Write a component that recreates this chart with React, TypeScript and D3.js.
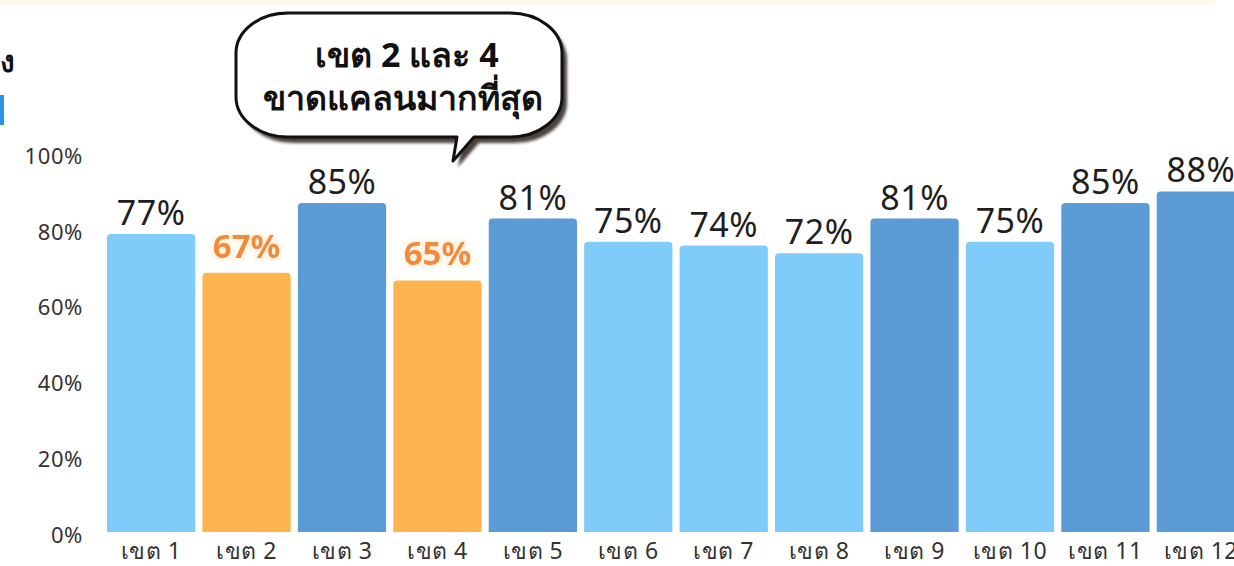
import React from "react";
import * as d3 from "d3";

const categories = ["เขต 1","เขต 2","เขต 3","เขต 4","เขต 5","เขต 6","เขต 7","เขต 8","เขต 9","เขต 10","เขต 11","เขต 12"];
const values = [77, 67, 85, 65, 81, 75, 74, 72, 81, 75, 85, 88];
const groups = ["light","orange","dark","orange","dark","light","light","light","dark","light","dark","dark"];
const yTicks = [0, 20, 40, 60, 80, 100];
const calloutLines = ["เขต 2 และ 4", "ขาดแคลนมากที่สุด"];

const W = 1234, H = 566;
const colors: Record<string, string> = { light: "#7FCBF9", orange: "#FCB54E", dark: "#5B9BD6" };
const FONT = "'Noto Sans', 'Open Sans', sans-serif";

export default function App() {
  const x = d3.scaleBand<string>().domain(categories).range([107, 1245]).paddingInner(0.075).paddingOuter(0);
  const y = d3.scaleLinear().domain([0, 100]).range([532, 145]);
  const yLab = d3.scaleLinear().domain([0, 100]).range([535, 156]);

  const bx0 = 236, bx1 = 562, by0 = 13, by1 = 137, rx = 52, ry = 40;
  const bubble = `M ${bx0 + rx} ${by0} H ${bx1 - rx} A ${rx} ${ry} 0 0 1 ${bx1} ${by0 + ry} V ${by1 - ry} A ${rx} ${ry} 0 0 1 ${bx1 - rx} ${by1} H 474 L 453 161 L 457 ${by1} H ${bx0 + rx} A ${rx} ${ry} 0 0 1 ${bx0} ${by1 - ry} V ${by0 + ry} A ${rx} ${ry} 0 0 1 ${bx0 + rx} ${by0} Z`;

  const barPath = (x0: number, w: number, top: number, bottom: number, r: number) =>
    `M ${x0} ${bottom} V ${top + r} Q ${x0} ${top} ${x0 + r} ${top} H ${x0 + w - r} Q ${x0 + w} ${top} ${x0 + w} ${top + r} V ${bottom} Z`;

  return (
    <svg width={W} height={H} style={{ position: "absolute", left: 0, top: 0, background: "#fff" }} fontFamily={FONT}>
      <defs>
        <filter id="sh" x="-10%" y="-10%" width="130%" height="140%">
          <feGaussianBlur stdDeviation="1.5" />
        </filter>
        <filter id="glow" x="-20%" y="-30%" width="140%" height="160%">
          <feMorphology operator="dilate" radius="2" in="SourceAlpha" result="d" />
          <feGaussianBlur stdDeviation="2" in="d" result="b" />
          <feFlood floodColor="#fff3dc" />
          <feComposite operator="in" in2="b" result="g" />
          <feMerge><feMergeNode in="g" /><feMergeNode in="SourceGraphic" /></feMerge>
        </filter>
      </defs>
      <rect x={0} y={0} width={1215} height={5} fill="#fcf8ee" />
      <text x={0} y={72} fontSize={30} fontWeight={700} fill="#111">ง</text>
      <rect x={0} y={95} width={4} height={30} fill="#2b93e3" />

      {/* y axis labels */}
      {yTicks.map(t => (
        <text key={t} x={83} y={yLab(t)} dy="0.35em" textAnchor="end" fontSize={22} letterSpacing={0.6} fill="#333">{t}%</text>
      ))}

      {/* bars */}
      {categories.map((c, i) => {
        const x0 = x(c)!;
        return (
          <path key={c} d={barPath(x0, x.bandwidth(), y(values[i]), y(0), 4)} fill={colors[groups[i]]} />
        );
      })}

      {/* value labels */}
      {categories.map((c, i) => {
        const isO = groups[i] === "orange";
        return (
          <text key={c} x={x(c)! + x.bandwidth() / 2} y={y(values[i]) - (isO ? 15 : 9)} textAnchor="middle"
            fontSize={isO ? 33 : 34} fontWeight={isO ? 700 : 400} fill={isO ? "#F28A3A" : "#1e1e1e"}
            letterSpacing={isO ? 0 : 0.5}
            filter={isO ? "url(#glow)" : undefined}>
            {values[i]}%
          </text>
        );
      })}

      {/* x labels */}
      {categories.map(c => (
        <text key={c} x={x(c)! + x.bandwidth() / 2} y={559} textAnchor="middle" fontSize={23} letterSpacing={0.5} fill="#333">{c}</text>
      ))}

      {/* callout */}
      <path d={bubble} transform="translate(5,6)" fill="#4a433e" filter="url(#sh)" />
      <path d={bubble} fill="#fff" stroke="#111" strokeWidth={3} strokeLinejoin="round" />
      <text x={407} y={67} textAnchor="middle" fontSize={34} fontWeight={700} fill="#111">{calloutLines[0]}</text>
      <text x={403} y={110} textAnchor="middle" fontSize={34} fontWeight={700} fill="#111">{calloutLines[1]}</text>
    </svg>
  );
}
